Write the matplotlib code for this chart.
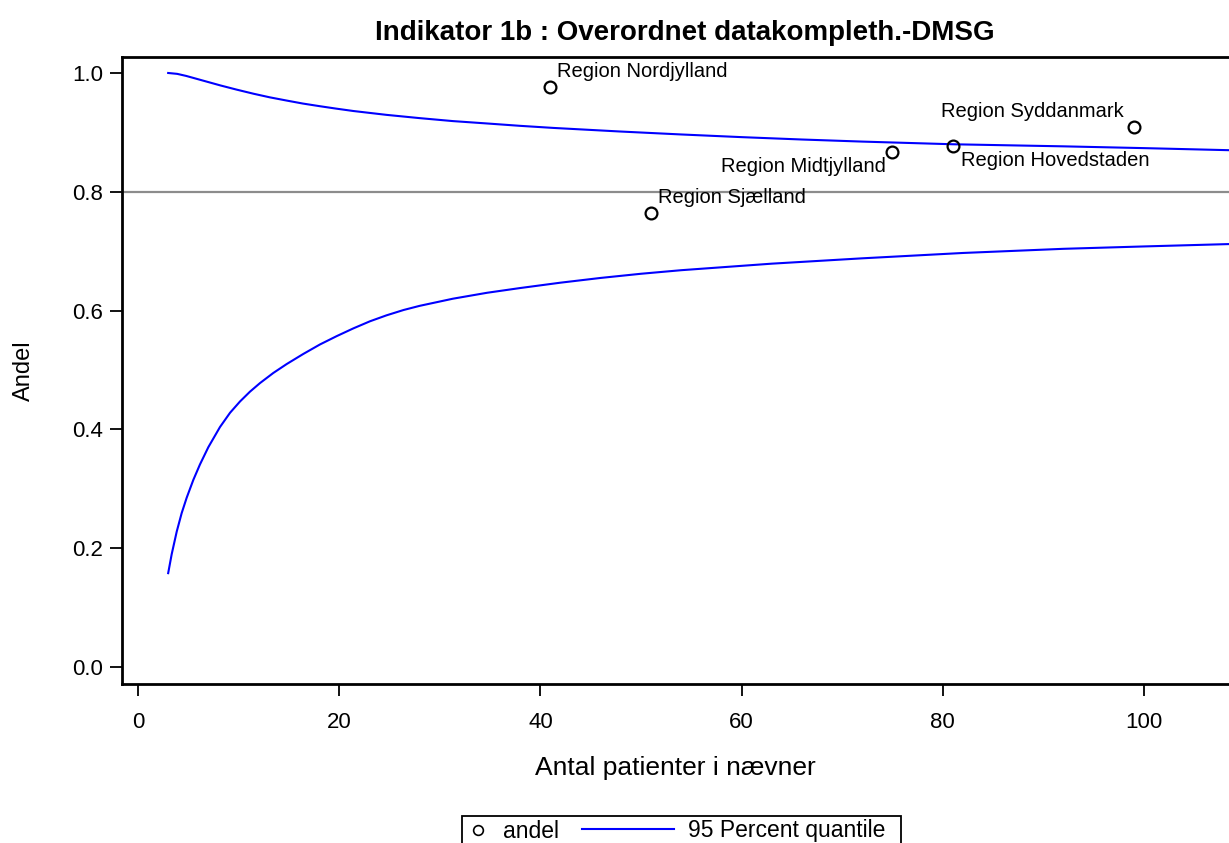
import matplotlib
matplotlib.use("Agg")
import matplotlib.pyplot as plt
from matplotlib.lines import Line2D
from matplotlib.patches import Rectangle

plt.rcParams['font.family'] = ['Liberation Sans', 'DejaVu Sans']

# regions (patients in denominator, share)
regions = ['Region Nordjylland', 'Region Sjælland', 'Region Midtjylland',
           'Region Hovedstaden', 'Region Syddanmark']
n_pat = [41, 51, 75, 81, 99]
andel = [0.976, 0.765, 0.867, 0.877, 0.909]

# 95 percent quantile limits
upper_x = [3, 3.9, 4.8, 6.5, 8.2, 9.8, 11.5, 13.1, 14.8, 16.4, 18.1, 19.7,
           21.4, 24.7, 28, 31.3, 34.7, 38, 41.3, 44.6, 47.9, 54, 60, 66, 72,
           81, 92, 100, 108.5]
upper_y = [1.0, 0.9985, 0.995, 0.987, 0.979, 0.972, 0.965, 0.959, 0.9535,
           0.9485, 0.944, 0.940, 0.936, 0.9295, 0.924, 0.919, 0.915, 0.911,
           0.9075, 0.9045, 0.9015, 0.8965, 0.892, 0.888, 0.8845, 0.880,
           0.8765, 0.8735, 0.870]
lower_x = [3, 3.35, 3.85, 4.34, 4.84, 5.5, 6.16, 6.99, 8.15, 9.15, 10.14,
           11.13, 12.13, 13.45, 14.78, 16.43, 18.09, 19.75, 21.4, 23.06, 24.7,
           26.4, 28, 31.3, 34.7, 38, 42, 46, 50, 54, 63, 72, 82, 92, 100, 108.5]
lower_y = [0.158, 0.190, 0.228, 0.259, 0.285, 0.315, 0.341, 0.370, 0.404,
           0.428, 0.447, 0.4635, 0.478, 0.495, 0.510, 0.527, 0.543, 0.557,
           0.570, 0.582, 0.592, 0.601, 0.608, 0.620, 0.630, 0.638, 0.647,
           0.655, 0.662, 0.668, 0.679, 0.688, 0.697, 0.704, 0.708, 0.712]
target = 0.8

# label offsets in pixels (dx, dy, ha, va)
label_pos = [(7, 6, 'left', 'bottom'), (7, 6, 'left', 'bottom'),
             (-7, -5, 'right', 'top'), (8, -5, 'left', 'top'),
             (-10, 6, 'right', 'bottom')]

W, H = 1229, 843
fig = plt.figure(figsize=(W/100, H/100), dpi=100)
ax = fig.add_axes([122/W, 159/H, 1107/W, 627/H])

ax.axhline(target, color='#8c8c8c', lw=1.6, zorder=1)
ax.plot(upper_x, upper_y, color='#0000ff', lw=1.5, zorder=2)
ax.plot(lower_x, lower_y, color='#0000ff', lw=1.5, zorder=2)
ax.plot(n_pat, andel, 'o', mfc='none', mec='black', mew=1.6, ms=8.5, zorder=3)

for name, xv, yv, (dx, dy, ha, va) in zip(regions, n_pat, andel, label_pos):
    ax.annotate(name, (xv, yv), xytext=(dx*0.72, dy*0.72), textcoords='offset points',
                ha=ha, va=va, fontsize=14.5)

ax.set_xlim(-1.59, 108.45)
ax.set_ylim(-0.0286, 1.0269)
ax.set_xticks([0, 20, 40, 60, 80, 100])
ax.set_yticks([0.0, 0.2, 0.4, 0.6, 0.8, 1.0])
ax.set_yticklabels(['0.0', '0.2', '0.4', '0.6', '0.8', '1.0'])
ax.tick_params(axis='both', direction='out', length=8.5, width=1.3, labelsize=16, pad=5)
ax.tick_params(axis='x', pad=12)

for side in ['left', 'bottom', 'top']:
    ax.spines[side].set_linewidth(2)
ax.spines['right'].set_visible(False)

ax.set_title('Indikator 1b : Overordnet datakompleth.-DMSG', fontsize=20,
             fontweight='bold', pad=12, x=0.508)
ax.set_xlabel('Antal patienter i nævner', fontsize=19, labelpad=16)
ax.set_ylabel('Andel', fontsize=17, labelpad=27)

# legend box drawn by hand so the marker entry stays narrow
tf = fig.transFigure
fig.add_artist(Rectangle((462/W, 1 - 850/H), 439/W, 34/H, transform=tf,
                         fill=False, edgecolor='black', lw=1.3))
fig.add_artist(Line2D([478/W], [1 - 830/H], transform=tf, marker='o', ls='none',
                      mfc='none', mec='black', mew=1.2, ms=7))
fig.add_artist(Line2D([582/W, 674/W], [1 - 829/H, 1 - 829/H], transform=tf,
                      color='#0000ff', lw=1.5))
fig.text(503/W, 1 - 831/H, 'andel', fontsize=16.5, va='center', ha='left')
fig.text(688/W, 1 - 831/H, '95 Percent quantile', fontsize=16.5, va='center', ha='left')

fig.savefig('out.png', dpi=100)
